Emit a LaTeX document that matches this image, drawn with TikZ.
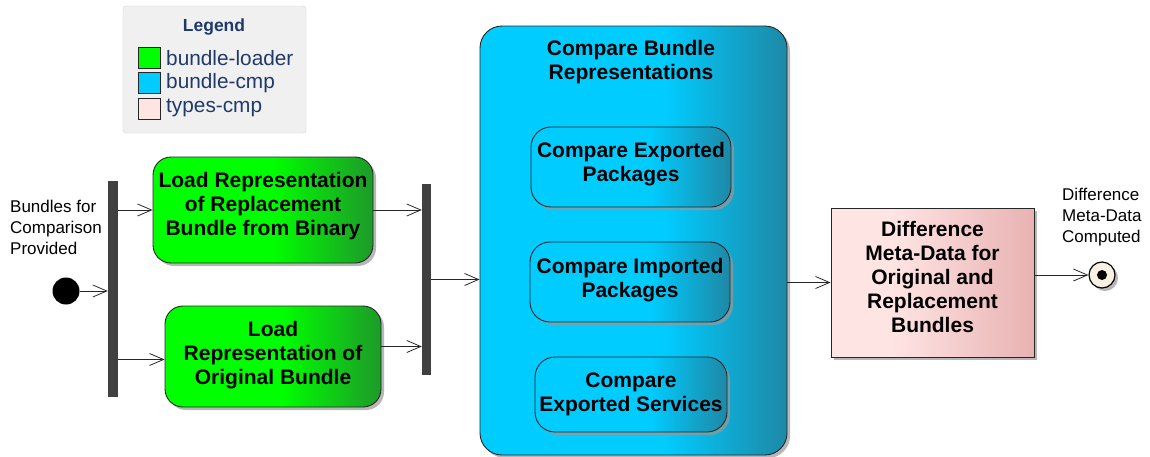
\documentclass[tikz,border=0pt]{standalone}
\usepackage{fontspec}
\setmainfont{Liberation Sans}
\usetikzlibrary{arrows.meta,shadows,calc}
\definecolor{gA}{HTML}{00FF00}
\definecolor{gB}{HTML}{1E9A2A}
\definecolor{bA}{HTML}{00CCFF}
\definecolor{bB}{HTML}{1E88A6}
\definecolor{pA}{HTML}{FFE4E4}
\definecolor{pB}{HTML}{E8B2B2}
\definecolor{legtxt}{HTML}{1F3A6A}
\definecolor{legbg}{HTML}{F0F0F0}
\definecolor{cream}{HTML}{F8F0E0}
\pgfdeclarehorizontalshading{greensh}{100bp}{color(0bp)=(gA); color(52bp)=(gA); color(75bp)=(gB); color(100bp)=(gB)}
\pgfdeclarehorizontalshading{bluesh}{100bp}{color(0bp)=(bA); color(55bp)=(bA); color(75bp)=(bB); color(100bp)=(bB)}
\pgfdeclarehorizontalshading{pinksh}{100bp}{color(0bp)=(pA); color(40bp)=(pA); color(75bp)=(pB); color(100bp)=(pB)}
\tikzset{
  shad/.style={drop shadow={shadow xshift=3pt, shadow yshift=-3pt, fill=black!40, opacity=0.7}},
  act/.style={draw=black!85, line width=0.9pt, rounded corners=18pt, align=center,
    font=\bfseries\fontsize{21}{24}\selectfont, inner sep=0pt, shad},
  greenbox/.style={act, shade, shading=greensh},
  bluebox/.style={act, shade, shading=bluesh},
  pinkbox/.style={act, rounded corners=0pt, shade, shading=pinksh},
  bar/.style={fill=black!75, draw=none, minimum width=10pt, inner sep=0pt},
  flow/.style={-{Straight Barb[length=14pt,width=12pt]}, line width=0.8pt, black!85},
  small/.style={font=\fontsize{17}{21}\selectfont, align=left, anchor=west, inner sep=0pt},
  legitem/.style={font=\fontsize{20.8}{24}\selectfont, text=legtxt, anchor=west, inner sep=0pt},
  swatch/.style={draw=black!85, line width=0.8pt, minimum width=22pt, minimum height=21pt, inner sep=0pt},
}
\begin{document}
\begin{tikzpicture}[x=1pt,y=-1pt]
\useasboundingbox (0,0) rectangle (1150,456);
% legend
\node[draw=black!18, fill=legbg, rounded corners=3pt, minimum width=183pt, minimum height=127pt, inner sep=0pt] (leg) at (214.5,69.5) {};
\node[font=\bfseries\fontsize{17.5}{20}\selectfont, text=legtxt] (legt) at (214,27) {Legend};
\node[swatch, fill=gA] (s1) at (149,57.5) {};
\node[swatch, fill=bA] (s2) at (149,83) {};
\node[swatch, fill=pA] (s3) at (149,108.5) {};
\node[legitem] (l1) at (166,58) {bundle-loader};
\node[legitem] (l2) at (166,83) {bundle-cmp};
\node[legitem] (l3) at (166,108) {types-cmp};
% start
\node[circle, fill=black, minimum size=27pt, inner sep=0pt] (start) at (66,291) {};
\node[small] (startlbl) at (10,227) {Bundles for\\Comparison\\Provided};
% fork bar
\node[bar, minimum height=216pt] (bar1) at (113,289) {};
% green boxes
\node[greenbox, text depth=12.5pt, minimum width=220pt, minimum height=106pt] (g1) at (263,210) {Load Representation\\of Replacement\\Bundle from Binary};
\node[greenbox, text depth=6.5pt, minimum width=216pt, minimum height=101pt] (g2) at (273,356.5) {Load\\Representation of\\Original Bundle};
% join bar
\node[bar, minimum height=191pt, minimum width=9pt] (bar2) at (426.5,279.5) {};
% big box
\node[bluebox, rounded corners=22pt, minimum width=307pt, minimum height=429pt] (big) at (633.5,240.5) {};
\node[font=\bfseries\fontsize{21}{24}\selectfont, align=center] (bigt) at (631,62) {Compare Bundle\\Representations};
\node[bluebox, text depth=10.5pt, rounded corners=20pt, minimum width=200pt, minimum height=80pt] (c1) at (631,167) {Compare Exported\\Packages};
\node[bluebox, text depth=8.5pt, rounded corners=20pt, minimum width=200pt, minimum height=80pt] (c2) at (630,282) {Compare Imported\\Packages};
\node[bluebox, rounded corners=20pt, minimum width=192pt, minimum height=75pt] (c3) at (631,394.5) {Compare\\Exported Services};
% pink box
\node[pinkbox, text depth=10.5pt, minimum width=203pt, minimum height=149pt] (pink) at (932.5,282.5) {Difference\\Meta-Data for\\Original and\\Replacement\\Bundles};
% end
\node[circle, draw=black, line width=1.2pt, fill=cream, minimum size=26pt, inner sep=0pt, shad] (end) at (1102,275) {};
\node[circle, fill=black, minimum size=10pt, inner sep=0pt] (enddot) at (end) {};
\node[small] (endlbl) at (1062,217.5) {Difference\\Meta-Data\\Computed};
% connectors
\draw[flow] (start) -- (start -| bar1.west);
\draw[flow] (bar1.east |- g1.west) -- (g1.west);
\coordinate (g2i) at ([yshift=-3pt]g2.west);
\draw[flow] (bar1.east |- g2i) -- (g2i);
\draw[flow] (g1.east) -- (g1.east -| bar2.west);
\coordinate (g2o) at ([yshift=10pt]g2.east);
\draw[flow] (g2o) -- (g2o -| bar2.west);
\draw[flow] (bar2.east) -- (bar2.east -| big.west);
\draw[flow] (big.east |- pink.west) -- (pink.west);
\draw[flow] (pink.east |- end) -- (end);
\end{tikzpicture}
\end{document}
